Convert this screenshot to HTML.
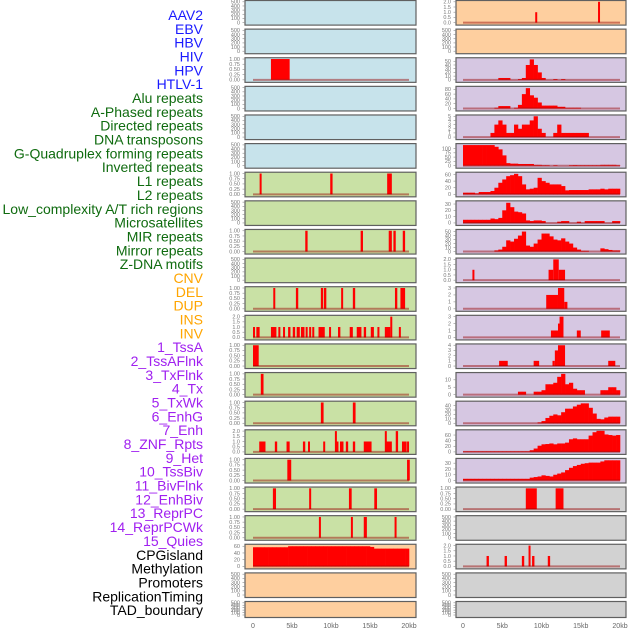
<!DOCTYPE html>
<html><head><meta charset="utf-8"><style>
html,body{margin:0;padding:0;background:#fff;width:630px;height:630px;overflow:hidden}
svg{display:block}
</style></head><body>
<svg id="chart" width="630" height="630" xmlns="http://www.w3.org/2000/svg" font-family="Liberation Sans, sans-serif"></svg>
<script>
// ---- labels ----
const trackLabels = ["AAV2","EBV","HBV","HIV","HPV","HTLV-1","Alu repeats","A-Phased repeats","Directed repeats","DNA transposons","G-Quadruplex forming repeats","Inverted repeats","L1 repeats","L2 repeats","Low_complexity A/T rich regions","Microsatellites","MIR repeats","Mirror repeats","Z-DNA motifs","CNV","DEL","DUP","INS","INV","1_TssA","2_TssAFlnk","3_TxFlnk","4_Tx","5_TxWk","6_EnhG","7_Enh","8_ZNF_Rpts","9_Het","10_TssBiv","11_BivFlnk","12_EnhBiv","13_ReprPC","14_ReprPCWk","15_Quies","CPGisland","Methylation","Promoters","ReplicationTiming","TAD_boundary"];
const labelColors = ["#1a1aff","#1a1aff","#1a1aff","#1a1aff","#1a1aff","#1a1aff","#0f6b0f","#0f6b0f","#0f6b0f","#0f6b0f","#0f6b0f","#0f6b0f","#0f6b0f","#0f6b0f","#0f6b0f","#0f6b0f","#0f6b0f","#0f6b0f","#0f6b0f","#ffa500","#ffa500","#ffa500","#ffa500","#ffa500","#a020f0","#a020f0","#a020f0","#a020f0","#a020f0","#a020f0","#a020f0","#a020f0","#a020f0","#a020f0","#a020f0","#a020f0","#a020f0","#a020f0","#a020f0","#000","#000","#000","#000","#000"];
const xTicks = [0,5,10,15,20];
const xTickLabels = ["0","5kb","10kb","15kb","20kb"];

// ---- left column spike data [startKb, endKb, value] ----
const L2_spikes = [[2.3,4.7,1]];
const L6_spikes = [[0.85,1.1,1],[9.9,10.2,1],[17.2,17.8,1]];
const L8_spikes = [[6.7,7.0,1],[13.8,14.1,1],[17.4,17.8,1],[18.0,18.3,1],[19.2,19.5,1]];
const L10_spikes = [[2.6,2.85,1],[5.5,5.8,1],[8.7,9.0,1],[9.1,9.4,1],[11.3,11.55,1],[12.8,13.1,1],[18.2,18.5,1],[18.9,19.5,1]];
const L11_spikes = [[0,0.26,1],[0.43,0.85,1],[2.3,3.0,1],[3.25,3.5,1],[3.85,4.1,1],[4.5,4.8,1],[5.1,5.4,1],[5.6,6.0,1],[6.15,6.6,1],[6.75,7.0,1],[7.2,7.4,1],[7.6,7.8,1],[8.4,9.2,1],[9.75,10.0,1],[10.9,11.2,1],[12.4,12.8,1],[13.3,13.9,1],[14.2,14.5,1],[15.1,15.5,1],[15.95,16.2,1],[16.9,17.6,1],[17.6,17.8,2],[18.7,18.9,1]];
const L12_spikes = [[0,0.73,1]];
const L13_spikes = [[1.0,1.35,1]];
const L14_spikes = [[8.7,9.05,1],[12.8,13.15,1]];
const L15_spikes = [[0.8,1.6,1],[2.8,3.1,1],[4.3,4.7,1],[6.4,6.7,1],[7.05,7.3,1],[9.0,9.2,1],[10.5,10.7,2],[10.7,10.9,1],[11.15,11.6,1],[11.9,12.2,1],[12.8,13.1,1],[14.2,15.2,1],[16.9,17.1,2],[17.1,17.8,1],[18.3,18.6,2],[19.1,19.7,1],[19.75,19.95,1]];
const L16_spikes = [[4.4,4.9,1],[19.75,20.1,1]];
const L17_spikes = [[2.55,2.95,1],[7.2,7.45,1],[12.3,12.65,1],[15.55,15.9,1]];
const L18_spikes = [[8.45,8.7,1],[12.55,12.8,1],[14.2,14.6,1],[18.15,18.4,1]];
const L19_bins = [57,57,57,57,57,57,57,57,57,60,60,60,60,60,60,60,60,60,60,60,60,60,60,60,60,60,60,60,60,60,58,53,53,53,53,53,53,53,53,53];

// ---- right column data (bins = 0.5kb each) ----
const R0_spikes = [[9.2,9.45,1],[17.2,17.45,2]];
const R2_bins = [0,0,0,0,0,0,0,0,0,5,5,5,0,0,2,5,40,55,40,20,5,0,0,2,0,2,0,0,0,0,0,0,0,0,0,0,0,0,0,0];
const R3_bins = [0,0,0,0,0,0,0,0,3,10,10,10,0,3,15,60,85,55,45,25,12,12,12,12,7,7,3,3,3,3,0,0,0,0,0,0,0,0,0,0];
const R4_bins = [0,0,0,0,0,0,0,1,3,4,3,1,1,3,2,3,3,4,5,2,1,0,0,1,3,1,1,1,1,1,1,1,0,0,0,0,0,0,0,0];
const R5_bins = [120,120,120,120,120,120,120,120,110,95,60,15,12,12,10,10,10,10,5,5,3,3,0,3,0,0,0,3,4,3,3,3,3,3,3,5,5,5,5,3];
const R6_bins = [5,5,5,3,7,7,7,10,20,35,45,55,58,62,55,30,15,17,20,50,40,35,30,30,30,25,12,13,13,13,13,13,15,15,15,17,15,17,17,17];
const R7_bins = [5,5,5,5,5,5,5,7,6,8,20,32,25,18,17,15,4,3,4,4,3,0,0,0,2,3,3,0,0,2,0,3,3,3,3,3,0,0,3,3];
const R8_bins = [0,0,0,0,0,0,0,0,3,5,12,28,25,32,40,50,15,12,20,30,45,45,38,30,28,33,25,20,10,5,2,2,0,0,0,8,6,4,3,3];
const R9_spikes = [[1.2,1.45,1],[10.9,11.5,1],[11.5,12.2,2],[12.2,13.0,1]];
const R10_spikes = [[10.6,12.1,2],[12.1,12.9,3],[12.9,13.3,1]];
const R11_spikes = [[11.2,12.1,1],[12.1,12.3,2],[12.3,12.8,3],[14.5,15.0,1],[17.6,18.7,1]];
const R12_spikes = [[4.6,5.7,1],[9.0,9.7,1],[11.4,11.7,1],[11.7,12.1,3],[12.1,13.0,4],[18.5,19.4,1]];
const R13_bins = [0,0,0,0,0,0,0,0,0,0,0,0,0,0,2,2,0,0,2,2,3,7,7,8,12,14,7,8,4,3,3,0,0,0,0,3,3,5,5,3];
const R14_bins = [0,0,0,0,0,0,0,0,0,0,0,0,0,0,0,0,0,0,0,2,5,12,17,20,18,25,33,33,38,42,45,45,35,22,10,9,13,15,15,15];
const R15_bins = [2,2,2,2,2,2,2,2,2,2,2,2,2,2,2,2,2,6,12,22,27,28,30,27,30,30,33,45,48,45,45,45,58,70,75,75,62,60,58,60];
const R16_bins = [3,3,3,3,3,3,3,3,3,3,3,3,3,3,3,3,3,5,6,7,9,8,7,10,12,14,18,22,25,27,29,30,31,31,31,33,35,35,35,35];
const R17_spikes = [[8.0,9.4,1],[11.8,12.8,1]];
const R19_spikes = [[3.0,3.3,1],[5.3,5.6,1],[7.5,7.8,1],[8.35,8.55,2],[8.8,9.1,1],[10.8,11.1,1]];

// ---- tick sets ----
const T1 = [0,0.25,0.5,0.75,1], T1L = ["0.00","0.25","0.50","0.75","1.00"];
const T2 = [0,0.5,1,1.5,2], T2L = ["0.0","0.5","1.0","1.5","2.0"];
const T500 = [0,100,200,300,400,500];

const BLUE="#c7e3eb", GREEN="#c9e1a5", ORANGE="#fecf9f", PURPLE="#d6c7e2", GRAY="#d2d2d2";
// panel config: [col,row,fill,ymax,ticks,tickLabels,spikes,bins,name]
const panels = [
 [0,0,BLUE,500,T500,null,null,null,"aav2"],
 [0,1,BLUE,500,T500,null,null,null,"ebv"],
 [0,2,BLUE,1,T1,T1L,L2_spikes,null,"hbv"],
 [0,3,BLUE,500,T500,null,null,null,"hiv"],
 [0,4,BLUE,500,T500,null,null,null,"hpv"],
 [0,5,BLUE,500,T500,null,null,null,"htlv-1"],
 [0,6,GREEN,1,T1,T1L,L6_spikes,null,"alu"],
 [0,7,GREEN,500,T500,null,null,null,"a-phased"],
 [0,8,GREEN,1,T1,T1L,L8_spikes,null,"directed"],
 [0,9,GREEN,500,T500,null,null,null,"dna-transposons"],
 [0,10,GREEN,1,T1,T1L,L10_spikes,null,"g-quadruplex"],
 [0,11,GREEN,2,T2,T2L,L11_spikes,null,"inverted"],
 [0,12,GREEN,1,T1,T1L,L12_spikes,null,"l1"],
 [0,13,GREEN,1,T1,T1L,L13_spikes,null,"l2"],
 [0,14,GREEN,1,T1,T1L,L14_spikes,null,"low-complexity"],
 [0,15,GREEN,2,T2,T2L,L15_spikes,null,"microsatellites"],
 [0,16,GREEN,1,T1,T1L,L16_spikes,null,"mir"],
 [0,17,GREEN,1,T1,T1L,L17_spikes,null,"mirror"],
 [0,18,GREEN,1,T1,T1L,L18_spikes,null,"z-dna"],
 [0,19,ORANGE,62,[0,20,40,60],null,null,L19_bins,"cnv"],
 [0,20,ORANGE,500,T500,null,null,null,"del"],
 [0,21,ORANGE,500,T500,null,null,null,"dup"],
 [1,0,ORANGE,2,T2,T2L,R0_spikes,null,"ins"],
 [1,1,ORANGE,500,T500,null,null,null,"inv"],
 [1,2,PURPLE,56,[0,10,20,30,40,50],null,null,R2_bins,"tssa"],
 [1,3,PURPLE,87,[0,20,40,60,80],null,null,R3_bins,"tssaflnk"],
 [1,4,PURPLE,5,[0,1,2,3,4,5],null,null,R4_bins,"txflnk"],
 [1,5,PURPLE,121,[0,25,50,75,100],null,null,R5_bins,"tx"],
 [1,6,PURPLE,63,[0,20,40,60],null,null,R6_bins,"txwk"],
 [1,7,PURPLE,33,[0,10,20,30],null,null,R7_bins,"enhg"],
 [1,8,PURPLE,52,[0,10,20,30,40,50],null,null,R8_bins,"enh"],
 [1,9,PURPLE,2,T2,T2L,R9_spikes,null,"znf-rpts"],
 [1,10,PURPLE,3,[0,1,2,3],null,R10_spikes,null,"het"],
 [1,11,PURPLE,3,[0,1,2,3],null,R11_spikes,null,"tssbiv"],
 [1,12,PURPLE,4,[0,1,2,3,4],null,R12_spikes,null,"bivflnk"],
 [1,13,PURPLE,14,[0,5,10],null,null,R13_bins,"enhbiv"],
 [1,14,PURPLE,47,[0,10,20,30,40],null,null,R14_bins,"reprpc"],
 [1,15,PURPLE,74,[0,20,40,60],null,null,R15_bins,"reprpcwk"],
 [1,16,PURPLE,36,[0,10,20,30],null,null,R16_bins,"quies"],
 [1,17,GRAY,1,T1,T1L,R17_spikes,null,"cpgisland"],
 [1,18,GRAY,500,T500,null,null,null,"methylation"],
 [1,19,GRAY,2,T2,T2L,R19_spikes,null,"promoters"],
 [1,20,GRAY,500,T500,null,null,null,"replication-timing"],
 [1,21,GRAY,500,T500,null,null,null,"tad-boundary"]
];

const NS="http://www.w3.org/2000/svg";
const svg=document.getElementById("chart");
function mk(tag,attrs,parent){const e=document.createElementNS(NS,tag);for(const k in attrs)e.setAttribute(k,attrs[k]);(parent||svg).appendChild(e);return e;}

// labels
trackLabels.forEach((t,i)=>{
  const e=mk("text",{x:203,y:15+i*13.84+5,"text-anchor":"end","font-size":"14",fill:labelColors[i]});
  e.textContent=t;
  
  
});

const colX=[[245,416,253,7.8],[456,626,463,7.85]];
function rowGeom(r){ if(r===21) return [601,16]; return [r*28.62,24.6]; }

panels.forEach(p=>{
  const [col,row,fill,ymax,ticks,tl,spikes,bins,name]=p;
  const [x0,x1,ox,kx]=colX[col];
  const [top,h]=rowGeom(row);
  const g=mk("g",{});
  
  
  const bg=mk("rect",{x:x0,y:top+0.5,width:x1-x0,height:h,fill:fill,stroke:"#606060","stroke-width":1.2},g);
  
  
  const yTop=top+1.8, yBot=top+h-2;
  const ys=v=>yBot-(v/ymax)*(yBot-yTop);
  const xs=k=>ox+k*kx;
  // y ticks
  ticks.forEach((t,i)=>{
    const lab=tl?tl[i]:String(t);
    const yy=ys(t);
    const tx=mk("text",{x:x0-5,y:yy+1.8,"text-anchor":"end","font-size":"5.5",fill:"#777"},g);
    tx.textContent=lab;
    
    
    mk("line",{x1:x0-2.5,x2:x0,y1:yy,y2:yy,stroke:"#888","stroke-width":0.6},g);
  });
  const hasData=!!(spikes||bins);
  if(bins){
    bins.forEach((v,i)=>{
      if(v<=0) return;
      const b=mk("rect",{x:xs(i*0.5),y:ys(v),width:kx*0.5+0.3,height:yBot-ys(v),fill:"#ff0000"},g);
      
      
    });
  }
  if(spikes){
    spikes.forEach(s=>{
      const w=Math.max(xs(s[1])-xs(s[0]),2);
      const b=mk("rect",{x:xs(s[0]),y:ys(s[2]),width:w,height:yBot-ys(s[2]),fill:"#ff0000"},g);
      
      
    });
  }
  if(hasData){
    const bl=mk("line",{x1:xs(0),x2:xs(20),y1:yBot,y2:yBot,stroke:"rgba(150,0,0,0.45)","stroke-width":2},g);
    
    
  }
});

// x axes
colX.forEach(c=>{
  xTicks.forEach((k,i)=>{
    const t=mk("text",{x:c[2]+k*c[3],y:628,"text-anchor":"middle","font-size":"7",fill:"#666"});
    t.textContent=xTickLabels[i];
    
    
  });
});
</script>
</body></html>
